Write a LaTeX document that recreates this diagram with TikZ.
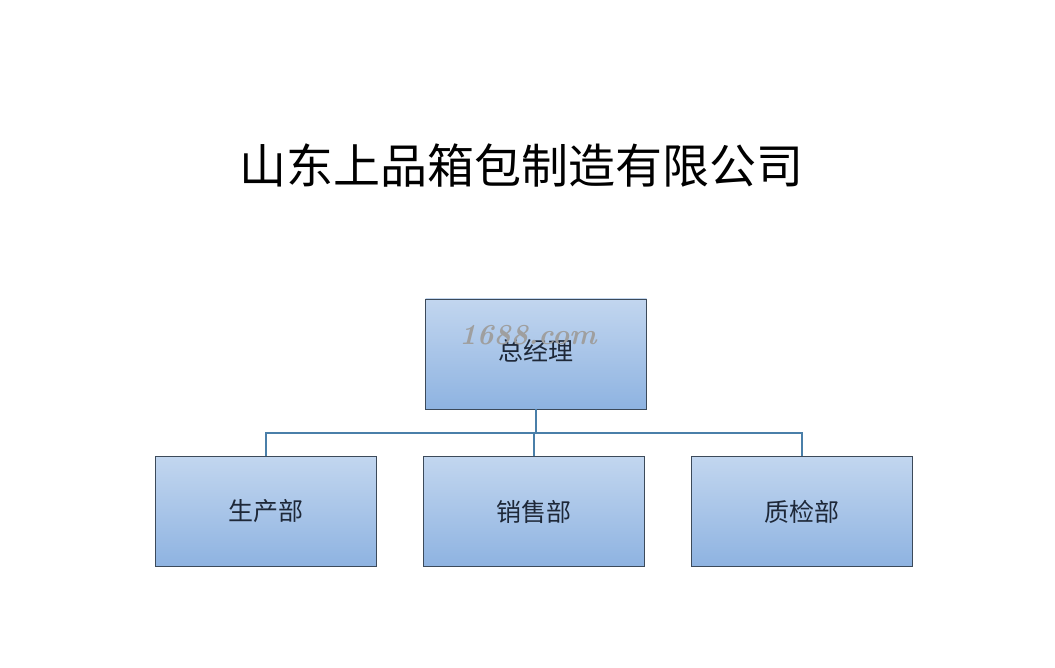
\documentclass[tikz,border=0pt]{standalone}
\usepackage{fontspec}
\newfontfamily\cjk{Noto Sans CJK SC}
\definecolor{boxtop}{HTML}{C2D6EF}
\definecolor{boxbot}{HTML}{8EB3E1}
\definecolor{boxline}{HTML}{3C4A5A}
\definecolor{conn}{HTML}{4A7FA9}
\definecolor{boxtext}{HTML}{1E2838}
\tikzset{
  orgbox/.style={draw=boxline, line width=0.9pt, top color=boxtop, bottom color=boxbot,
    minimum width=221pt, minimum height=110pt, inner sep=0pt,
    font=\cjk\fontsize{25pt}{28pt}\selectfont, text=boxtext},
  link/.style={draw=conn, line width=2pt}
}
\begin{document}
\begin{tikzpicture}[x=1pt,y=-1pt]
\useasboundingbox[fill=white] (0,0) rectangle (1055,668);
\node[font=\cjk\fontsize{47pt}{50pt}\selectfont, text=black] (title) at (521,166) {山东上品箱包制造有限公司};
\node[orgbox] (gm) at (536,354) {};
\node[font=\cjk\fontsize{25pt}{28pt}\selectfont, text=boxtext] (gmt) at (536,351) {总经理};
\node[font=\bfseries\itshape\fontsize{29pt}{30pt}\selectfont, text=gray!75] (wm) at (528,335) {1688.com};
\node[orgbox] (p1) at (266,511.5) {生产部};
\node[orgbox] (p2) at (534,511.5) {销售部};
\node[orgbox] (p3) at (802,511.5) {质检部};
\coordinate (j) at (536,433);
\draw[link] (gm.south) -- (j);
\draw[link] (p1.north) |- (j) -| (p3.north);
\draw[link] (p2.north) -- (p2.north |- j);
\end{tikzpicture}
\end{document}
